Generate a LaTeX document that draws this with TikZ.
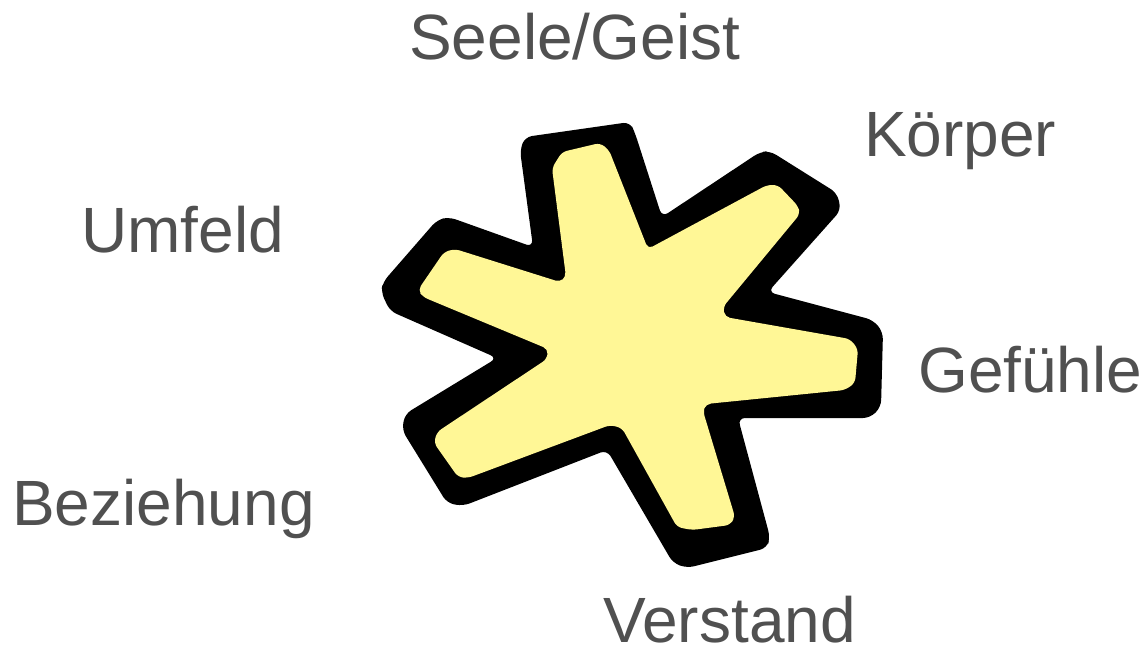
\documentclass[tikz,border=0pt]{standalone}
\usepackage{fontspec}
\setmainfont{Liberation Sans}
\definecolor{starfill}{RGB}{255,247,150}
\definecolor{labelgray}{RGB}{80,80,80}
\begin{document}
\begin{tikzpicture}[x=1pt,y=-1pt,
  lbl/.style={anchor=base west,inner sep=0pt,text=labelgray,font=\fontsize{64}{70}\selectfont}]
\useasboundingbox (0,0) rectangle (1144,651);
% outer black shape
\fill[black,rounded corners=7pt]
 (520,150) -- (525,137) -- (630,122) -- (635,133) -- (662,217)
 -- (760,152) -- (770,151) -- (837,193) -- (841,210) -- (768,292)
 -- (873,320) -- (883,332) -- (881,407) -- (870,418) -- (738,418)
 -- (770,537) -- (767,548) -- (687,568) -- (673,563) -- (607,450)
 -- (463,506) -- (447,503) -- (402,430) -- (405,414) -- (497,358)
 -- (390,311) -- (381,292) -- (383,282) -- (437,220) -- (449,217)
 -- (533,247) -- cycle;
% inner yellow shape
\fill[starfill,rounded corners=5pt]
 (552,168) -- (562,152) -- (600,143) -- (609,150) -- (648,249)
 -- (767,185) -- (778,185) -- (798,206) -- (800,214) -- (723,307) -- (725,317)
 -- (850,339) -- (858,349) -- (855,383) -- (845,390) -- (706,404) -- (703,411)
 -- (735,517) -- (730,525) -- (692,530) -- (677,527) -- (622,428) -- (610,425)
 -- (468,478) -- (458,477) -- (434,443) -- (437,432) -- (547,359) -- (548,349)
 -- (423,297) -- (418,290) -- (444,252) -- (455,249) -- (560,282) -- (566,277)
 -- cycle;
\node[lbl] (seele) at (409,59) {Seele/Geist};
\node[lbl] (koerper) at (864,156) {Körper};
\node[lbl] (umfeld) at (81,252) {Umfeld};
\node[lbl] (gefuehle) at (918,392) {Gefühle};
\node[lbl] (beziehung) at (12,525) {Beziehung};
\node[lbl,text depth=0pt] (verstand) at (603,642) {Verstand};
\end{tikzpicture}
\end{document}
